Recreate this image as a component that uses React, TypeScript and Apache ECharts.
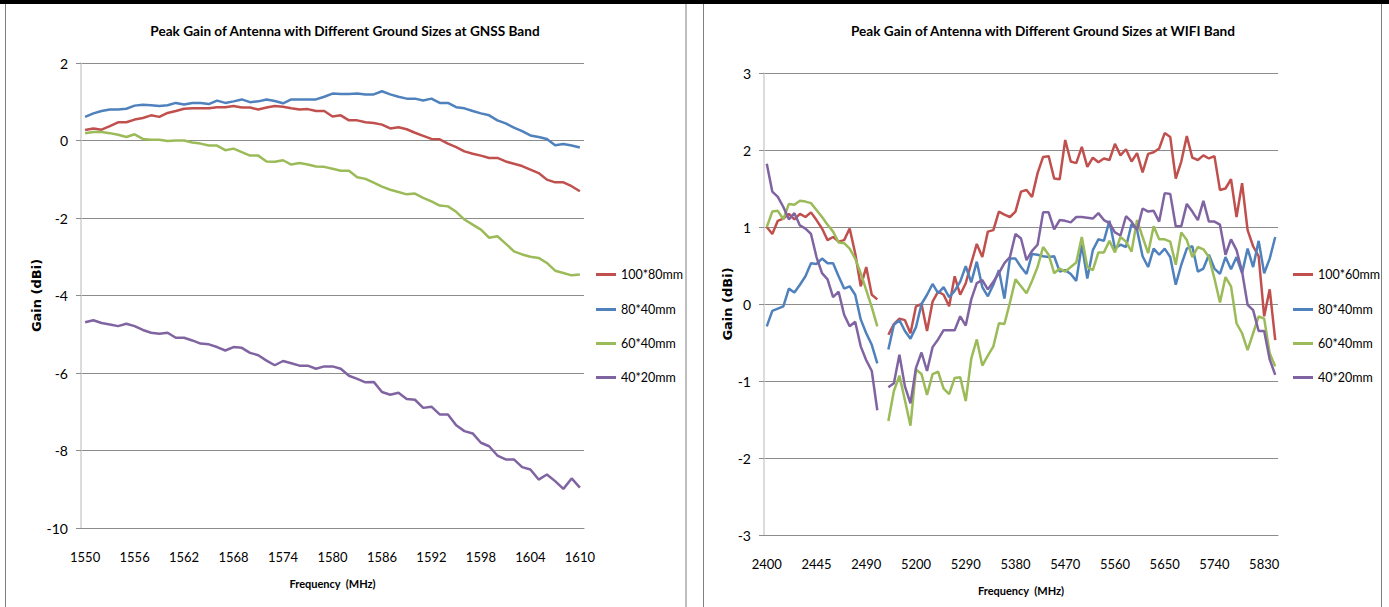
import React, { useEffect, useRef } from "react";
import * as echarts from "echarts";

const gnssCategories = [
  "1550","1551","1552","1553","1554","1555","1556","1557","1558","1559",
  "1560","1561","1562","1563","1564","1565","1566","1567","1568","1569",
  "1570","1571","1572","1573","1574","1575","1576","1577","1578","1579",
  "1580","1581","1582","1583","1584","1585","1586","1587","1588","1589",
  "1590","1591","1592","1593","1594","1595","1596","1597","1598","1599",
  "1600","1601","1602","1603","1604","1605","1606","1607","1608","1609","1610",
];

const gnss100x80 = [
  0.27, 0.31, 0.28, 0.37, 0.47, 0.47, 0.54, 0.58, 0.65, 0.61,
  0.71, 0.76, 0.82, 0.83, 0.83, 0.83, 0.86, 0.86, 0.89, 0.85,
  0.85, 0.8, 0.85, 0.89, 0.87, 0.83, 0.8, 0.81, 0.76, 0.76,
  0.62, 0.65, 0.52, 0.52, 0.47, 0.45, 0.41, 0.31, 0.34, 0.29,
  0.2, 0.12, 0.04, 0.03, -0.08, -0.17, -0.28, -0.34, -0.39, -0.45,
  -0.45, -0.54, -0.6, -0.66, -0.75, -0.84, -1.01, -1.08, -1.08, -1.18, -1.31,
];
const gnss80x40 = [
  0.61, 0.7, 0.76, 0.8, 0.8, 0.82, 0.9, 0.92, 0.91, 0.89,
  0.91, 0.97, 0.93, 0.97, 0.97, 0.94, 1.03, 0.97, 1.01, 1.06,
  0.99, 1.01, 1.06, 1.02, 0.96, 1.06, 1.06, 1.06, 1.06, 1.13,
  1.21, 1.2, 1.2, 1.21, 1.19, 1.19, 1.27, 1.19, 1.13, 1.08,
  1.08, 1.03, 1.08, 0.97, 0.97, 0.86, 0.83, 0.76, 0.7, 0.65,
  0.52, 0.44, 0.33, 0.24, 0.13, 0.09, 0.04, -0.12, -0.09, -0.13, -0.18,
];
const gnss60x40 = [
  0.19, 0.22, 0.22, 0.19, 0.15, 0.09, 0.16, 0.04, 0.02, 0.02,
  -0.01, 0.0, 0.0, -0.05, -0.08, -0.13, -0.13, -0.25, -0.21, -0.3,
  -0.39, -0.39, -0.54, -0.55, -0.51, -0.62, -0.58, -0.62, -0.67, -0.68,
  -0.73, -0.78, -0.78, -0.95, -0.99, -1.09, -1.19, -1.27, -1.33, -1.39,
  -1.37, -1.48, -1.57, -1.68, -1.7, -1.84, -2.04, -2.17, -2.3, -2.51,
  -2.47, -2.66, -2.86, -2.94, -3.0, -3.03, -3.16, -3.36, -3.42, -3.48, -3.46,
];
const gnss40x20 = [
  -4.69, -4.64, -4.71, -4.75, -4.79, -4.73, -4.79, -4.89, -4.96, -4.99,
  -4.96, -5.09, -5.09, -5.16, -5.24, -5.26, -5.33, -5.42, -5.33, -5.35,
  -5.48, -5.54, -5.68, -5.8, -5.69, -5.75, -5.81, -5.81, -5.89, -5.83,
  -5.83, -5.89, -6.07, -6.15, -6.24, -6.23, -6.49, -6.56, -6.51, -6.67,
  -6.69, -6.9, -6.87, -7.07, -7.07, -7.35, -7.5, -7.56, -7.8, -7.89,
  -8.13, -8.23, -8.23, -8.43, -8.49, -8.75, -8.62, -8.79, -8.99, -8.72, -8.96,
];

const wifiCategories = [
  "2400","2405","2410","2415","2420","2425","2430","2435","2440","2445",
  "2450","2455","2460","2465","2470","2475","2480","2485","2490","2495","2500",
  "",
  "5150","5160","5170","5180","5190","5200","5210","5220","5230","5240",
  "5250","5260","5270","5280","5290","5300","5310","5320","5330","5340",
  "5350","5360","5370","5380","5390","5400","5410","5420","5430","5440",
  "5450","5460","5470","5480","5490","5500","5510","5520","5530","5540",
  "5550","5560","5570","5580","5590","5600","5610","5620","5630","5640",
  "5650","5660","5670","5680","5690","5700","5710","5720","5730","5740",
  "5750","5760","5770","5780","5790","5800","5810","5820","5830","5840","5850",
];

const wifi100x60 = [
  1.0, 0.91, 1.08, 1.11, 1.17, 1.1, 1.17, 1.13, 1.19, 1.09, 0.98, 0.83, 0.87, 0.81, 0.83, 0.98, 0.66, 0.23, 0.48, 0.12, 0.06,
  null,
  -0.4, -0.26, -0.19, -0.21, -0.38, -0.03, 0.0, -0.35, 0.03, 0.16, 0.12, -0.03, 0.36, 0.12, 0.27, 0.53, 0.78, 0.61, 0.94, 0.96,
  1.2, 1.16, 1.13, 1.2, 1.46, 1.48, 1.39, 1.7, 1.91, 1.92, 1.63, 1.62, 2.13, 1.85, 1.83, 2.04, 1.78,
  1.9, 1.84, 1.89, 1.87, 2.08, 1.93, 2.01, 1.85, 1.96, 1.71, 1.95, 1.97, 2.02, 2.22, 2.17, 1.63, 1.85, 2.18, 1.9, 1.87,
  1.93, 1.89, 1.92, 1.48, 1.5, 1.62, 1.13, 1.57, 0.96, 0.75, 0.62, -0.16, 0.19, -0.47,
];
const wifi80x40 = [
  -0.29, -0.09, -0.06, -0.03, 0.2, 0.15, 0.25, 0.36, 0.53, 0.52, 0.59, 0.53, 0.53, 0.36, 0.2, 0.23, 0.12, -0.2, -0.38, -0.53, -0.77,
  null,
  -0.59, -0.27, -0.21, -0.35, -0.45, -0.3, 0.0, 0.12, 0.26, 0.14, 0.22, 0.09, 0.17, 0.29, 0.49, 0.28, 0.55, 0.22, 0.1, 0.25,
  0.44, 0.07, 0.59, 0.59, 0.48, 0.39, 0.65, 0.64, 0.62, 0.61, 0.62, 0.42, 0.44, 0.39, 0.3, 0.77, 0.33,
  0.7, 0.84, 0.82, 1.08, 0.72, 0.77, 0.74, 1.04, 0.96, 0.62, 0.48, 0.72, 0.64, 0.72, 0.61, 0.25, 0.51, 0.72, 0.75, 0.42,
  0.46, 0.64, 0.46, 0.39, 0.61, 0.45, 0.61, 0.4, 0.72, 0.48, 0.82, 0.4, 0.59, 0.87,
];
const wifi60x40 = [
  1.0, 1.2, 1.21, 1.1, 1.3, 1.29, 1.34, 1.33, 1.31, 1.22, 1.13, 1.03, 0.94, 0.8, 0.79, 0.72, 0.59, 0.4, 0.18, -0.04, -0.29,
  null,
  -1.52, -1.13, -0.93, -1.25, -1.58, -0.85, -0.91, -1.18, -0.91, -0.88, -1.1, -1.17, -0.96, -0.95, -1.26, -0.71, -0.46, -0.8, -0.67, -0.55,
  -0.25, -0.26, 0.02, 0.32, 0.23, 0.14, 0.3, 0.48, 0.74, 0.64, 0.4, 0.46, 0.42, 0.48, 0.54, 0.87, 0.48,
  0.44, 0.67, 0.67, 0.82, 0.67, 0.87, 0.81, 0.68, 1.09, 0.87, 0.66, 1.01, 0.84, 0.84, 0.81, 0.51, 0.93, 0.83, 0.61, 0.74,
  0.71, 0.61, 0.33, 0.02, 0.35, 0.23, -0.25, -0.38, -0.6, -0.38, -0.16, -0.19, -0.64, -0.81,
];
const wifi40x20 = [
  1.82, 1.46, 1.39, 1.26, 1.1, 1.18, 1.02, 0.98, 0.91, 0.61, 0.4, 0.32, 0.09, 0.16, -0.14, -0.29, -0.23, -0.55, -0.73, -0.87, -1.38,
  null,
  -1.08, -1.03, -0.66, -1.07, -1.29, -0.83, -0.63, -0.87, -0.56, -0.46, -0.34, -0.34, -0.34, -0.16, -0.28, 0.06, 0.27, 0.31, 0.19, 0.29,
  0.4, 0.53, 0.61, 0.91, 0.85, 0.57, 0.69, 0.77, 1.19, 1.19, 0.97, 1.09, 1.08, 1.06, 1.13, 1.13, 1.12,
  1.11, 1.18, 1.09, 1.05, 0.93, 0.89, 1.14, 1.07, 0.96, 1.24, 1.2, 1.21, 1.07, 1.44, 1.43, 1.01, 1.01, 1.3, 1.2, 1.09,
  1.34, 1.07, 1.07, 1.03, 0.64, 0.84, 0.7, 0.42, -0.01, -0.08, -0.35, -0.35, -0.72, -0.92,
];

const gnssNames = ["100*80mm", "80*40mm", "60*40mm", "40*20mm"];
const wifiNames = ["100*60mm", "80*40mm", "60*40mm", "40*20mm"];
const colors = ["#C0504D", "#4F81BD", "#9BBB59", "#8064A2"];

const FONT = "Lato, 'DejaVu Sans Condensed', sans-serif";
const GRID_COLOR = "#8C8C8C";

export default function App() {
  const ref = useRef<HTMLDivElement>(null);

  useEffect(() => {
    if (!ref.current) return;
    const chart = echarts.init(ref.current, undefined, { renderer: "svg" });

    const gnssData = [gnss100x80, gnss80x40, gnss60x40, gnss40x20];
    const wifiData = [wifi100x60, wifi80x40, wifi60x40, wifi40x20];

    const series: any[] = [];
    gnssData.forEach((d, i) => {
      series.push({
        type: "line",
        name: gnssNames[i],
        xAxisIndex: 0,
        yAxisIndex: 0,
        data: d,
        symbol: "none",
        lineStyle: { color: colors[i], width: 2.5 },
        itemStyle: { color: colors[i] },
      });
    });
    wifiData.forEach((d, i) => {
      series.push({
        type: "line",
        name: "w" + wifiNames[i],
        xAxisIndex: 1,
        yAxisIndex: 1,
        data: d,
        symbol: "none",
        connectNulls: false,
        lineStyle: { color: colors[i], width: 2.5 },
        itemStyle: { color: colors[i] },
      });
    });

    const legendTops = [268, 303, 337, 371];
    const legends: any[] = [];
    gnssNames.forEach((n, i) => {
      legends.push({
        data: [n],
        left: 596,
        top: legendTops[i],
        icon: "rect",
        itemWidth: 20,
        itemHeight: 3,
        padding: 0,
        selectedMode: false,
        textStyle: { fontFamily: FONT, fontSize: 12.5, color: "#000" },
      });
    });
    wifiNames.forEach((n, i) => {
      legends.push({
        data: [{ name: "w" + n }],
        formatter: () => n,
        left: 1293,
        top: legendTops[i],
        icon: "rect",
        itemWidth: 20,
        itemHeight: 3,
        padding: 0,
        selectedMode: false,
        textStyle: { fontFamily: FONT, fontSize: 12.5, color: "#000" },
      });
    });

    const xAxisCommon = (cats: string[], interval: number, gap: number) => ({
      type: "category",
      data: cats,
      boundaryGap: true,
      axisLine: { show: true, onZero: false, lineStyle: { color: GRID_COLOR, width: 1 } },
      axisTick: { show: false },
      axisLabel: { interval, margin: 22, fontFamily: FONT, fontSize: 13, color: "#000" },
      name: "Frequency  (MHz)",
      nameLocation: "middle",
      nameGap: gap,
      nameTextStyle: { fontFamily: FONT, fontSize: 11, fontWeight: "bold", color: "#000" },
    });
    const yAxisCommon = (min: number, max: number, interval: number, gap: number) => ({
      type: "value",
      min,
      max,
      interval,
      axisLine: { show: true, lineStyle: { color: "#D0D0D0", width: 1.5 } },
      axisTick: { show: true, length: 5, lineStyle: { color: GRID_COLOR } },
      splitLine: { show: true, lineStyle: { color: GRID_COLOR, width: 1 } },
      axisLabel: { margin: 13, fontFamily: FONT, fontSize: 14, color: "#000" },
      name: "Gain (dBi)",
      nameLocation: "middle",
      nameRotate: 90,
      nameGap: gap,
      nameTextStyle: { fontFamily: "'DejaVu Sans', Verdana, sans-serif", fontSize: 13, fontWeight: "bold", color: "#000" },
    });

    chart.setOption({
      animation: false,
      backgroundColor: "#fff",
      title: [
        {
          text: "Peak Gain of Antenna with Different Ground Sizes at GNSS Band",
          left: 345,
          top: 24,
          textAlign: "center",
          padding: 0,
          textStyle: { fontFamily: FONT, fontSize: 13.6, fontWeight: "bold", color: "#000" },
        },
        {
          text: "Peak Gain of Antenna with Different Ground Sizes at WIFI Band",
          left: 1043,
          top: 24,
          textAlign: "center",
          padding: 0,
          textStyle: { fontFamily: FONT, fontSize: 13.6, fontWeight: "bold", color: "#000" },
        },
      ],
      legend: legends,
      grid: [
        { left: 81, top: 63, width: 503, height: 465, containLabel: false },
        { left: 764, top: 73, width: 514, height: 462, containLabel: false },
      ],
      xAxis: [
        { ...xAxisCommon(gnssCategories, 5, 50), gridIndex: 0 },
        { ...xAxisCommon(wifiCategories, 8, 50), gridIndex: 1 },
      ],
      yAxis: [
        { ...yAxisCommon(-10, 2, 2, 31), gridIndex: 0 },
        { ...yAxisCommon(-3, 3, 1, 24), gridIndex: 1 },
      ],
      series,
      graphic: [
        { type: "rect", shape: { x: 5.5, y: 2, width: 680.5, height: 640 }, style: { fill: "none", stroke: "#7F7F7F", lineWidth: 1 }, silent: true },
        { type: "rect", shape: { x: 703.5, y: 2, width: 678, height: 640 }, style: { fill: "none", stroke: "#7F7F7F", lineWidth: 1 }, silent: true },
        { type: "rect", shape: { x: 0, y: 0, width: 1389, height: 4 }, style: { fill: "#000" }, silent: true },
      ],
    });

    return () => chart.dispose();
  }, []);

  return (
    <div
      ref={ref}
      style={{ position: "fixed", left: 0, top: 0, width: 1389, height: 607, background: "#fff" }}
    />
  );
}
